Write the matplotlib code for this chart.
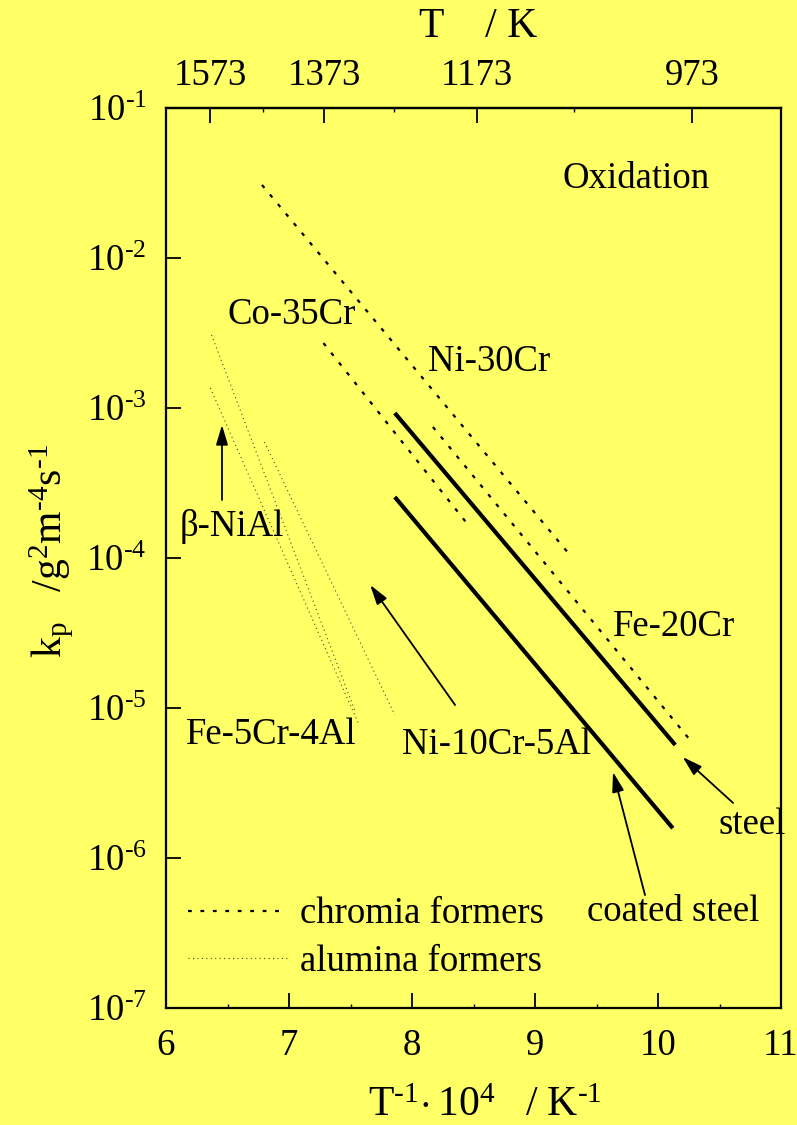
import matplotlib
matplotlib.use("Agg")
import matplotlib.pyplot as plt
from matplotlib.lines import Line2D

plt.rcParams['font.family'] = ['Liberation Serif', 'DejaVu Serif']
plt.rcParams['mathtext.fontset'] = 'custom'
plt.rcParams['mathtext.rm'] = 'Liberation Serif'
plt.rcParams['mathtext.it'] = 'Liberation Serif:italic'
plt.rcParams['mathtext.bf'] = 'Liberation Serif:bold'

BG = '#FFFF66'
FS = 26.5

# Parabolic rate constants k_p (g^2 m^-4 s^-1) against 1e4/T (K^-1)
# chromia formers
ni30cr_x = [6.78, 9.27]
ni30cr_kp = [3.07e-2, 1.08e-4]
co35cr_x = [7.28, 8.47]
co35cr_kp = [2.71e-3, 1.61e-4]
fe20cr_x = [8.17, 10.26]
fe20cr_kp = [7.47e-4, 6.12e-6]

# alumina formers
nial_x = [6.37, 7.54]
nial_kp = [3.07e-3, 9.4e-6]
fe5cr4al_x = [6.36, 7.57]
fe5cr4al_kp = [1.36e-3, 7.7e-6]
ni10cr5al_x = [6.80, 7.86]
ni10cr5al_kp = [5.93e-4, 8.98e-6]

# steels
steel_x = [7.86, 10.14]
steel_kp = [9.26e-4, 5.67e-6]
coated_x = [7.86, 10.12]
coated_kp = [2.55e-4, 1.58e-6]

y_decades = [1e-7, 1e-6, 1e-5, 1e-4, 1e-3, 1e-2, 1e-1]
y_labels = [r'$10^{\text{-7}}$', r'$10^{\text{-6}}$', r'$10^{\text{-5}}$',
            r'$10^{\text{-4}}$', r'$10^{\text{-3}}$', r'$10^{\text{-2}}$',
            r'$10^{\text{-1}}$']
x_ticks = [6, 7, 8, 9, 10, 11]
x_minor = [6.5, 7.5, 8.5, 9.5, 10.5]
t_ticks = [1573, 1373, 1173, 973]
t_minor = [1473, 1273, 1073]

chromia_style = dict(color='black', lw=1.6, linestyle=(0, (1.7, 3.9)))
alumina_style = dict(color='#4a4a30', lw=0.8, linestyle=(0, (1.0, 3.0)))
solid_style = dict(color='black', lw=3.0, solid_capstyle='butt')

fig = plt.figure(figsize=(7.97, 11.25), dpi=100, facecolor=BG)
ax = fig.add_axes([0.2083, 0.104, 0.7717, 0.80])
ax.set_facecolor(BG)
ax.set_yscale('log')
ax.set_xlim(6, 11)
ax.set_ylim(1e-7, 1e-1)

for xs, ks in [(ni30cr_x, ni30cr_kp), (co35cr_x, co35cr_kp), (fe20cr_x, fe20cr_kp)]:
    ax.plot(xs, ks, **chromia_style)
for xs, ks in [(nial_x, nial_kp), (fe5cr4al_x, fe5cr4al_kp), (ni10cr5al_x, ni10cr5al_kp)]:
    ax.plot(xs, ks, **alumina_style)
ax.plot(steel_x, steel_kp, **solid_style)
ax.plot(coated_x, coated_kp, **solid_style)

# axes styling
for sp in ax.spines.values():
    sp.set_linewidth(1.6)
ax.set_xticks(x_ticks)
ax.set_xticklabels([str(v) for v in x_ticks])
ax.set_xticks(x_minor, minor=True)
ax.set_yticks(y_decades)
ax.set_yticklabels(y_labels)
ax.yaxis.set_minor_locator(matplotlib.ticker.NullLocator())
ax.tick_params(axis='both', which='major', direction='in', length=11,
               width=1.3, labelsize=FS, top=False, right=False)
ax.tick_params(axis='x', which='major', pad=15)
ax.tick_params(axis='y', which='major', pad=14)
ax.tick_params(axis='x', which='minor', direction='in', length=3,
               width=1.0, top=False)

top = ax.secondary_xaxis('top', functions=(lambda x: 1e4 / x, lambda t: 1e4 / t))
top.set_xticks(t_ticks)
top.set_xticklabels([str(v) for v in t_ticks])
top.set_xticks(t_minor, minor=True)
top.tick_params(axis='x', which='major', direction='in', length=11,
                width=1.3, labelsize=FS, pad=11)
top.tick_params(axis='x', which='minor', direction='in', length=3, width=1.0)
top.spines['top'].set_linewidth(1.6)

# axis titles
fig.text(478 / 797, 1 - 37 / 1125, 'T    / K', fontsize=30,
         ha='center', va='baseline')
fig.text(485 / 797, 9 / 1125,
         r'$\mathrm{T^{\text{-1}}\!\cdot 10^{4}\quad /\ K^{\text{-1}}}$',
         fontsize=30, ha='center', va='baseline')
fig.text(52 / 797, 1 - 551 / 1125,
         r'$\mathrm{k_p\quad /g^{2}m^{\text{-4}}s^{\text{-1}}}$',
         fontsize=30, rotation=90, ha='center', va='center')

# curve labels
ax.text(9.22, 3.4e-2, 'Oxidation', fontsize=FS, ha='left', va='center')
ax.text(6.50, 4.17e-3, 'Co-35Cr', fontsize=FS, ha='left', va='center')
ax.text(8.13, 2.03e-3, 'Ni-30Cr', fontsize=FS, ha='left', va='center')
ax.text(9.63, 3.47e-5, 'Fe-20Cr', fontsize=FS, ha='left', va='center')
ax.text(6.11, 1.61e-4, '\u03b2-NiAl', fontsize=FS, ha='left', va='center')
ax.text(6.16, 6.6e-6, 'Fe-5Cr-4Al', fontsize=FS, ha='left', va='center')
ax.text(7.92, 5.67e-6, 'Ni-10Cr-5Al', fontsize=FS, ha='left', va='center')
ax.text(10.49, 1.66e-6, 'steel', fontsize=FS, ha='left', va='center')
ax.text(9.42, 4.37e-7, 'coated steel', fontsize=FS, ha='left', va='center')

arrow = dict(arrowstyle='-|>,head_length=0.8,head_width=0.24', color='black',
             lw=1.3, mutation_scale=15, shrinkA=0, shrinkB=0)
ax.annotate('', xy=(6.455, 10 ** -3.113), xytext=(6.455, 10 ** -3.613), arrowprops=arrow)
ax.annotate('', xy=(7.66, 10 ** -4.18), xytext=(8.35, 10 ** -4.98), arrowprops=arrow)
ax.annotate('', xy=(9.634, 10 ** -5.427), xytext=(9.894, 10 ** -6.247), arrowprops=arrow)
ax.annotate('', xy=(10.20, 10 ** -5.327), xytext=(10.61, 10 ** -5.633), arrowprops=arrow)

handles = [Line2D([], [], **chromia_style), Line2D([], [], **alumina_style)]
ax.legend(handles, ['chromia formers', 'alumina formers'], loc='lower left',
          bbox_to_anchor=(0.012, 0.016), frameon=False, fontsize=FS,
          handlelength=2.7, handletextpad=0.35, labelspacing=0.35,
          borderaxespad=0.0)

fig.savefig('out.png', dpi=100, facecolor=BG)
